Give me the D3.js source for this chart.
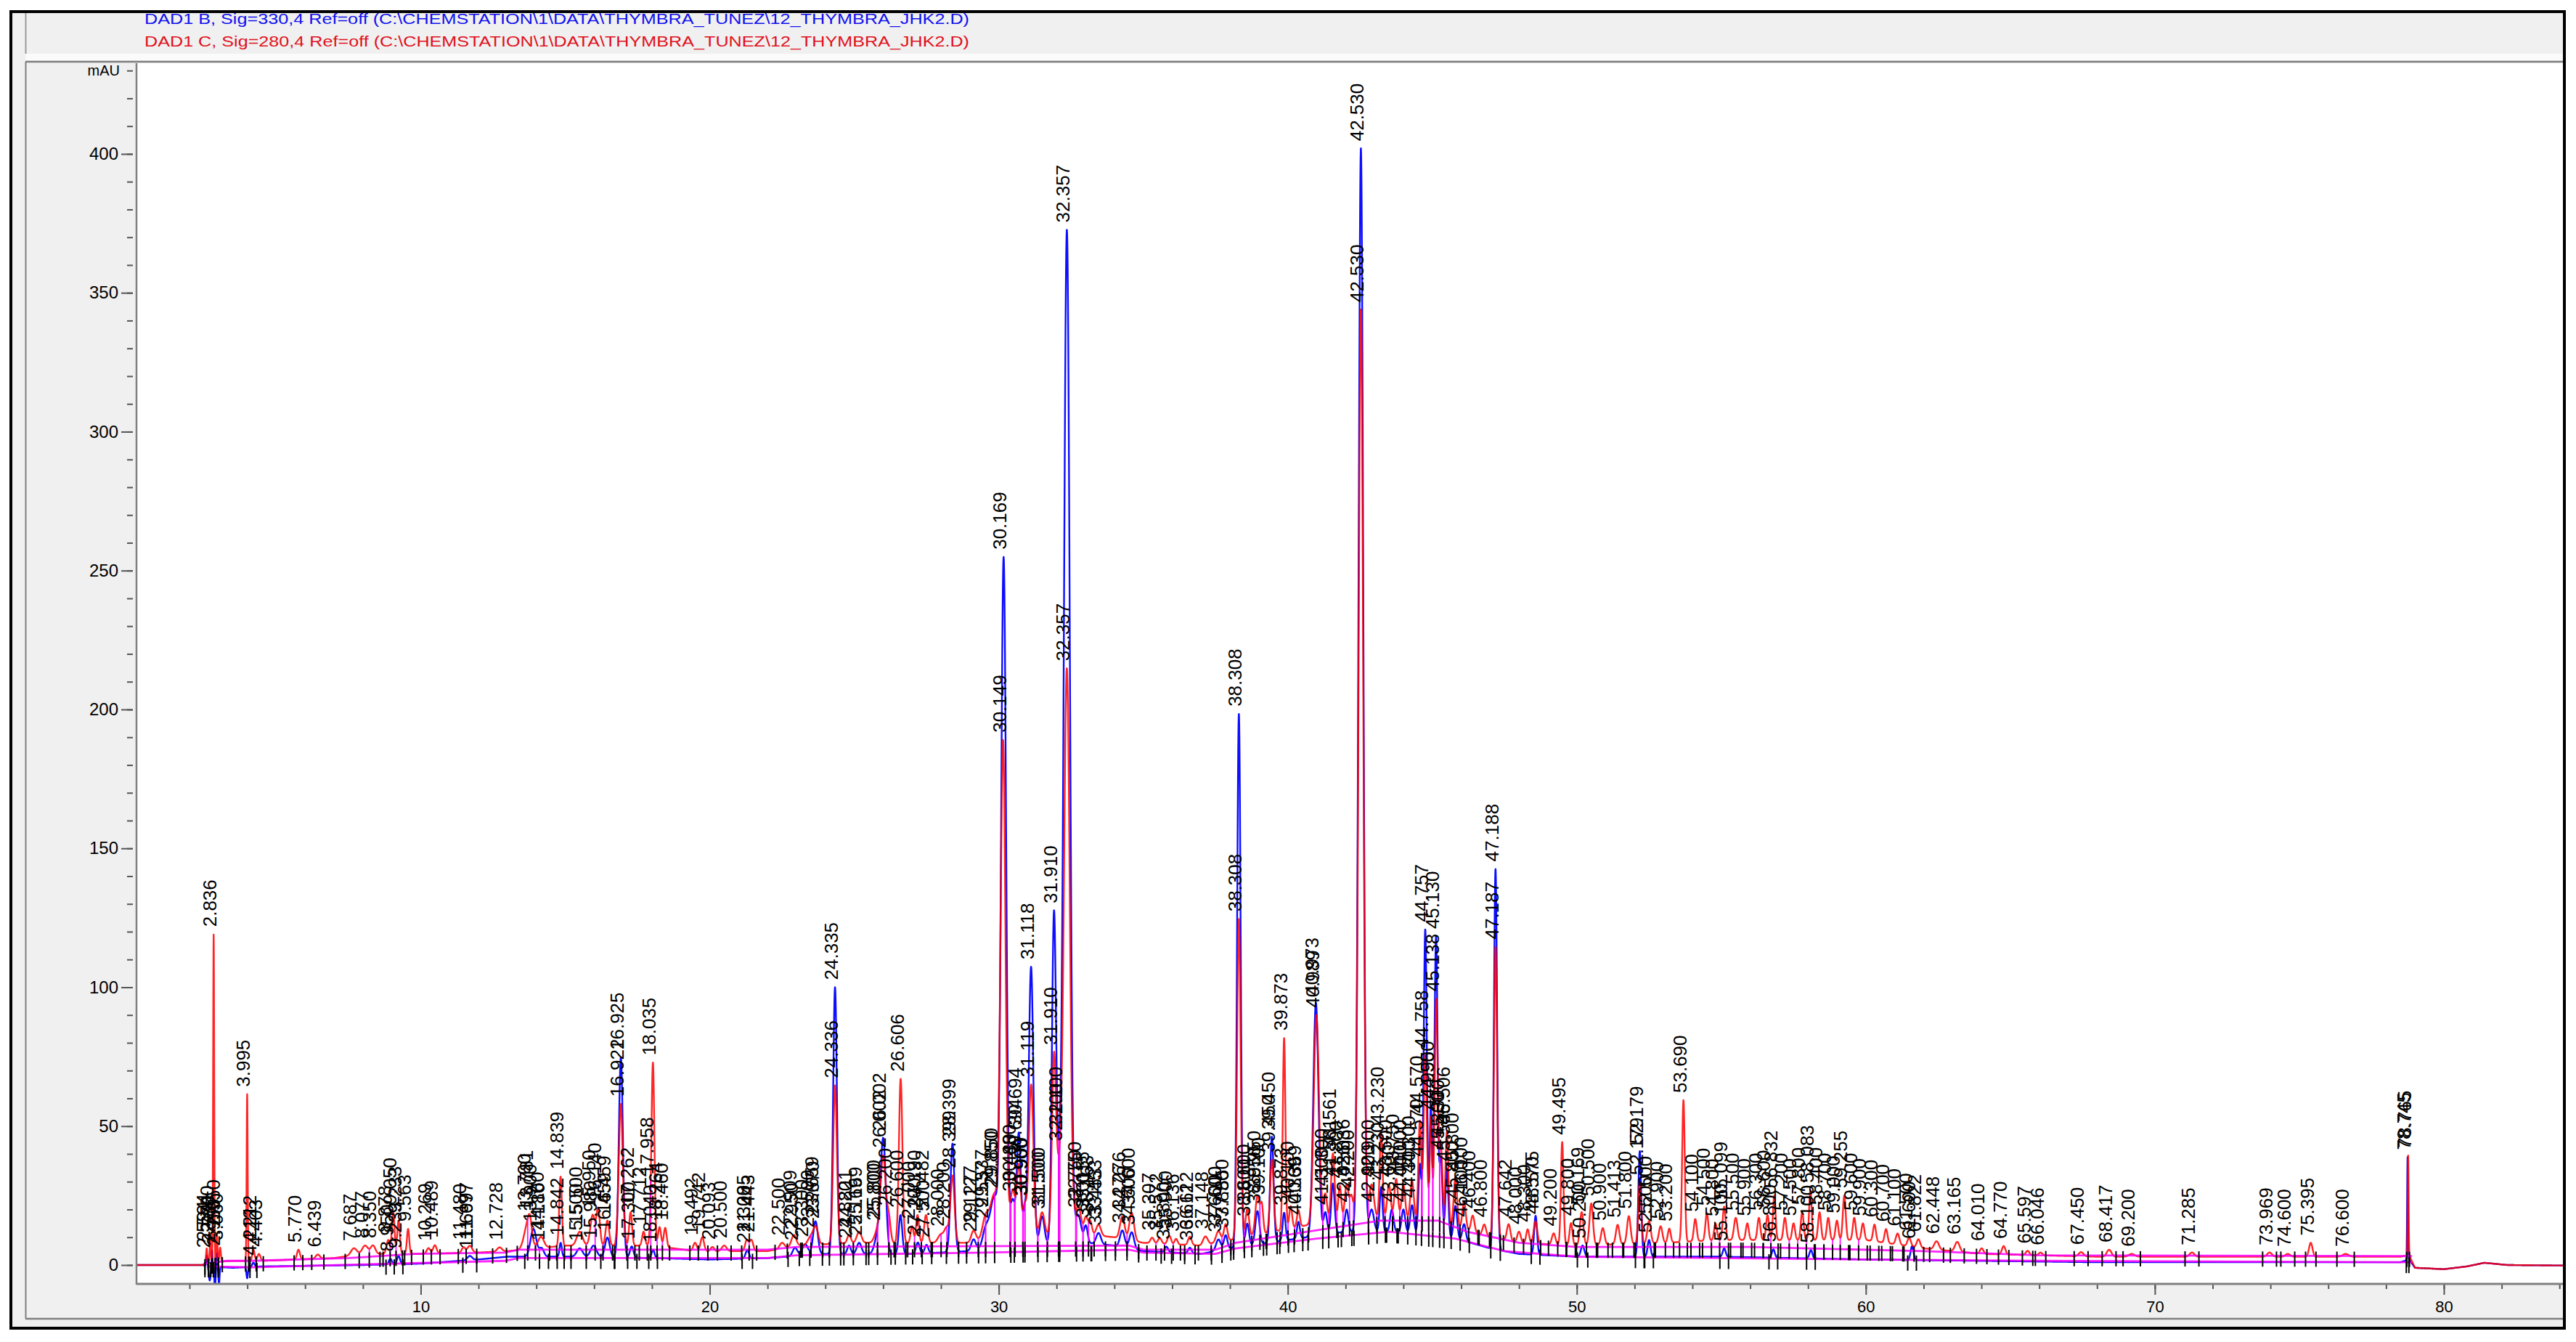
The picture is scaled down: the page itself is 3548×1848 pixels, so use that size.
<!DOCTYPE html>
<html><head><meta charset="utf-8">
<script src="https://cdn.jsdelivr.net/npm/d3@7"></script>
<style>
html,body{margin:0;padding:0;background:#fff;}
svg{display:block;}
text{font-family:"Liberation Sans",Arial,sans-serif;}
</style>
</head><body>
<svg id="c" width="3548" height="1848"></svg>
<script>
// ---------------- DATA ----------------
const headerLines = [
  "DAD1 B, Sig=330,4 Ref=off (C:\\CHEMSTATION\\1\\DATA\\THYMBRA_TUNEZ\\12_THYMBRA_JHK2.D)",
  "DAD1 C, Sig=280,4 Ref=off (C:\\CHEMSTATION\\1\\DATA\\THYMBRA_TUNEZ\\12_THYMBRA_JHK2.D)"
];
const yUnit = "mAU";
const yTickLabels = [0, 50, 100, 150, 200, 250, 300, 350, 400];
const xTickLabels = [10, 20, 30, 40, 50, 60, 70, 80];

// signal drift (time min, mAU)
const blueDrift = [[0.2,0],[2.45,0],[2.6,-0.5],[3.5,-1],[4.5,-0.5],[8,0],[10,0.5],[12,2],[13,3],[16,3],[18,2.5],[20,2],[22,2.5],[24,4],[27,4],[29,5],[30,7],[33,8],[34,7],[35,5],[37,4],[38,6],[40,9],[42,12],[44,12],[46,9],[47,6],[48,4],[50,3],[55,3],[60,2],[64,1.5],[68,1],[78.5,1],[78.8,2],[79.0,-1],[80,-1.5],[80.8,-0.5],[81.4,0.8],[82.2,0],[84.2,-0.2]];
const redDrift = [[0.2,0],[2.45,0],[2.6,1],[3.5,1.5],[4.5,1.5],[7,2.5],[8,4],[10,4],[12,4.5],[13,5],[15,7],[18,7],[19.5,5],[22,5],[23,7],[25,8],[29,8],[30,11],[33,11],[34,10],[35,8],[37,7],[38,9],[40,13],[42,17],[44,17],[46,13],[47,10],[48,8],[50,7],[53,8],[55,9],[60,9],[62,6],[64,4],[68,3],[78.5,3],[78.8,3.5],[79.0,-1],[80,-1.5],[80.8,-0.5],[81.4,0.8],[82.2,0],[84.2,-0.2]];

// peaks: [retention time, height above drift (mAU), width sigma (min)]
const bluePeaks = [
[2.594,4,0.02],[2.70,-5,0.03],[2.78,6,0.015],[2.88,-8,0.02],[2.95,5,0.015],[3.02,-6,0.02],[3.995,-4,0.025],[4.212,1.5,0.04],
[8.95,2,0.05],[9.233,3,0.05],[11.697,1.5,0.08],
[13.9,10,0.1],[14.18,3,0.08],[14.842,5,0.04],[15.5,3,0.1],[15.98,4,0.1],[16.459,7,0.08],[16.925,72,0.07],[17.3,4,0.06],[18.04,3,0.05],
[21.3,3,0.06],[22.95,3,0.08],[23.3,4,0.1],[23.659,12,0.08],
[24.335,96,0.065],[24.82,3,0.06],[25.169,4,0.08],[25.8,6,0.1],[26.002,41,0.09],[26.6,14,0.06],[27.2,4,0.06],[27.5,3,0.06],[28.399,39,0.07],[29.127,4,0.08],[29.537,6,0.1],
[29.85,18,0.15],[30.169,246,0.085],[30.48,16,0.08],[30.694,40,0.07],[30.9,12,0.06],[31.118,100,0.08],[31.5,10,0.08],[31.910,116,0.07],[32.1,24,0.1],[32.357,364,0.1],[32.75,10,0.1],[33.015,6,0.06],[33.453,4,0.08],[34.276,6,0.08],[34.6,6,0.08],[35.8,2,0.06],[36.612,2,0.06],[37.6,4,0.08],[37.85,5,0.06],
[38.308,192,0.06],[38.6,8,0.06],[38.95,12,0.07],[39.45,38,0.06],[39.873,10,0.05],[40.369,6,0.05],[40.973,84,0.09],[41.3,8,0.06],[41.561,18,0.06],[42.036,8,0.06],
[42.530,390,0.08],[42.9,8,0.08],[43.230,16,0.05],[43.6,8,0.06],[44.0,8,0.06],[44.3,10,0.06],[44.570,25,0.05],[44.757,110,0.055],[44.95,46,0.04],[45.130,108,0.055],[45.3,28,0.05],[45.506,25,0.05],[45.8,12,0.06],[46.1,6,0.06],
[47.188,137,0.055],[48.575,14,0.05],[50.2,4,0.06],[52.179,38,0.05],[52.5,6,0.05],[55.1,3,0.05],[56.8,3,0.05],[58.1,3,0.05],[61.6,5,0.05],[78.745,37,0.015]
];
const redPeaks = [
[2.594,5,0.02],[2.72,8,0.02],[2.836,118,0.018],[2.95,10,0.02],[3.06,5,0.025],[3.995,60,0.018],[4.212,4,0.04],[4.403,2.5,0.05],[5.770,3.5,0.05],[6.439,1.5,0.07],[7.687,2.5,0.1],[8.077,3,0.1],[8.35,3,0.08],[8.878,5,0.06],[9.05,15,0.045],[9.233,12,0.045],[9.563,9,0.04],[10.269,2,0.06],[10.489,3,0.06],[11.480,2,0.06],[11.697,2.5,0.08],[12.728,1.5,0.08],
[13.70,9,0.12],[13.781,5,0.06],[14.160,4,0.1],[14.839,25,0.045],[15.5,5,0.1],[15.95,11,0.08],[16.140,13,0.06],[16.459,9,0.06],[16.922,51,0.07],[17.262,12,0.05],[17.712,5,0.05],[17.958,3,0.05],[18.035,65,0.05],[18.264,7,0.05],[18.460,7,0.05],[19.492,3,0.06],[19.742,5,0.06],
[20.093,1.5,0.06],[20.5,2,0.08],[21.285,4,0.06],[21.443,4,0.06],[22.5,2,0.08],[22.909,4,0.08],[23.5,3,0.1],[23.670,6,0.08],
[24.336,57,0.065],[24.821,3,0.06],[25.169,4,0.08],[25.8,4,0.1],[26.002,31,0.09],[26.2,8,0.06],[26.606,59,0.06],[27.0,6,0.05],[27.190,10,0.05],[27.482,10,0.06],[28.0,3,0.1],[28.2,5,0.08],[28.399,24,0.07],[29.127,4,0.08],[29.537,7,0.1],
[29.85,15,0.15],[30.149,176,0.085],[30.48,16,0.08],[30.694,25,0.07],[30.9,10,0.06],[31.119,54,0.08],[31.5,8,0.08],[31.910,62,0.07],[32.1,22,0.1],[32.357,203,0.1],[32.75,10,0.1],[33.015,6,0.06],[33.163,5,0.06],[33.453,4,0.08],
[34.276,8,0.08],[34.6,10,0.08],[35.307,2,0.06],[35.572,2,0.06],[35.9,3,0.06],[36.136,2,0.05],[36.612,3,0.06],[37.148,3,0.08],[37.6,4,0.08],[37.85,6,0.06],
[38.308,115,0.06],[38.6,10,0.06],[38.95,14,0.07],[39.1,10,0.05],[39.45,26,0.06],[39.873,69,0.045],[40.1,8,0.05],[40.369,6,0.05],[40.989,75,0.09],[41.3,10,0.06],[41.561,24,0.06],[41.8,12,0.05],[42.036,12,0.06],[42.2,8,0.06],
[42.530,327,0.08],[42.9,12,0.08],[43.230,31,0.05],[43.5,12,0.06],[43.75,14,0.06],[44.0,12,0.06],[44.3,14,0.06],[44.570,36,0.05],[44.758,60,0.055],[44.95,38,0.04],[45.138,81,0.055],[45.3,28,0.05],[45.506,34,0.05],[45.8,18,0.06],[46.1,10,0.06],[46.4,6,0.06],[46.8,4,0.06],
[47.187,105,0.055],[47.642,6,0.06],[48.0,4,0.06],[48.3,5,0.05],[48.57,8,0.06],[49.2,4,0.06],[49.495,37,0.045],[49.8,8,0.05],[50.169,12,0.06],[50.5,15,0.06],[50.9,6,0.06],
[51.413,7,0.06],[51.8,10,0.06],[52.179,22,0.05],[52.5,8,0.06],[52.9,6,0.06],[53.2,5,0.05],[53.690,51,0.045],[54.1,8,0.05],[54.5,10,0.05],[54.8,6,0.05],[55.099,12,0.05],[55.5,8,0.06],[55.9,6,0.05],[56.3,8,0.05],[56.6,9,0.05],[56.832,16,0.045],[57.2,8,0.05],[57.5,6,0.05],[57.8,10,0.05],[58.083,18,0.045],[58.4,10,0.05],[58.7,8,0.05],[59.0,7,0.05],[59.255,16,0.05],[59.6,8,0.05],[59.9,6,0.05],[60.3,6,0.05],[60.7,5,0.05],[61.1,4,0.06],[61.5,3,0.06],[61.822,3,0.06],[62.448,3,0.08],[63.165,3.5,0.08],[64.010,2,0.06],[64.770,3,0.06],[65.597,1.5,0.06],[66.046,1,0.06],[67.450,1.5,0.08],[68.417,2.5,0.08],[69.2,1,0.1],[71.285,1.5,0.08],[73.969,1.5,0.08],[74.6,1,0.08],[75.395,5,0.06],[76.6,1,0.1],[78.765,36,0.015]
];

// integration baselines (time, mAU)
const redIntegBase = [[2.5,0.5],[3.3,1.5],[4.1,1.5],[7.5,2.5],[9.8,4],[12.9,4.5],[13.4,5.5],[20,5.5],[22,5.5],[23,6.5],[34.5,7],[35,5.5],[37.5,5.5],[38.2,8],[41,12.5],[43.2,16],[45.2,16],[46.2,12],[48,8],[50,6.5],[56,6.5],[62,5],[66,3.5],[78.9,3.2]];
const blueIntegBase = [[2.6,-0.5],[4.2,-0.8],[12.9,1.5],[13.4,2.5],[22,2.5],[23,3.5],[29.5,4.5],[34.5,5.5],[35,4.5],[37.5,4],[38.2,6],[41,9.5],[43.5,12],[45.8,9.5],[47.5,5],[50,3],[60,2],[66,1.5],[78.9,1]];

// ---------------- DRAW ----------------
const W = 3548, H = 1848;
const L = 188, R = 3530, T = 88, B = 1768;
const x = d3.scaleLinear().domain([0.166, 84.12]).range([L, R]);
const y = d3.scaleLinear().domain([-6.8, 432.4]).range([B, T]);

const svg = d3.select("#c");
svg.append("rect").attr("width", W).attr("height", H).attr("fill", "#fff");
svg.append("rect").attr("x", 16).attr("y", 17).attr("width", 3515).attr("height", 1811).attr("fill", "#f0f0f0");
svg.append("rect").attr("x", 35).attr("y", 74).attr("width", 3496).attr("height", 9).attr("fill", "#fbfbfb");
svg.append("line").attr("x1", 35.5).attr("x2", 35.5).attr("y1", 17).attr("y2", 74).attr("stroke", "#9a9a9a").attr("stroke-width", 2);
svg.append("line").attr("x1", 35).attr("x2", 3531).attr("y1", 85).attr("y2", 85).attr("stroke", "#7f7f7f").attr("stroke-width", 2.5);
svg.append("line").attr("x1", 35.5).attr("x2", 35.5).attr("y1", 85).attr("y2", 1816).attr("stroke", "#7f7f7f").attr("stroke-width", 2);
svg.append("line").attr("x1", 35).attr("x2", 3531).attr("y1", 1816).attr("y2", 1816).attr("stroke", "#7f7f7f").attr("stroke-width", 2.5);
svg.append("rect").attr("x", L).attr("y", 87).attr("width", R - L).attr("height", B - 87).attr("fill", "#fff");

// header text
const headerColors = ["#1010f0", "#e0101c"];
svg.selectAll("text.hdr").data(headerLines).enter().append("text")
  .attr("class", "hdr")
  .attr("x", 199).attr("y", (d, i) => 33 + i * 31)
  .attr("font-size", 21)
  .attr("textLength", 1136).attr("lengthAdjust", "spacingAndGlyphs")
  .attr("fill", (d, i) => headerColors[i])
  .text(d => d);

svg.append("clipPath").attr("id", "plotclip").append("rect")
  .attr("x", L).attr("y", 87).attr("width", R - L).attr("height", B - 87);
const g = svg.append("g").attr("clip-path", "url(#plotclip)");

function interp(pts, t) {
  if (t <= pts[0][0]) return pts[0][1];
  for (let i = 1; i < pts.length; i++) {
    if (t <= pts[i][0]) {
      const [t0, v0] = pts[i - 1], [t1, v1] = pts[i];
      return v0 + (v1 - v0) * (t - t0) / (t1 - t0);
    }
  }
  return pts[pts.length - 1][1];
}
function makeSignal(peaks, drift) {
  return function (t) {
    let v = interp(drift, t);
    for (const [pt, h, s] of peaks) {
      const d = (t - pt) / s;
      if (d > -7 && d < 7) v += h * Math.exp(-0.5 * d * d);
    }
    return v;
  };
}
const blueSig = makeSignal(bluePeaks, blueDrift);
const redSig = makeSignal(redPeaks, redDrift);
const times = d3.range(0.17, 84.12, 0.005);
const line = d3.line().x(d => x(d[0])).y(d => y(d[1]));

const traces = [
  { sig: blueSig, color: "#0000ff", op: 0.95, peaks: bluePeaks, base: blueIntegBase },
  { sig: redSig, color: "#ff0000", op: 0.85, peaks: redPeaks, base: redIntegBase }
];
traces.forEach(tr => {
  g.append("path").datum(times.map(t => [t, tr.sig(t)]))
    .attr("d", line).attr("fill", "none")
    .attr("stroke", tr.color).attr("stroke-width", 2.4).attr("stroke-opacity", tr.op)
    .attr("stroke-linejoin", "round");
});

function boundaries(peaks, sig) {
  const pos = peaks.filter(p => p[1] > 0).sort((a, b) => a[0] - b[0]);
  const drops = [], edges = [];
  edges.push(pos[0][0] - 3 * pos[0][2]);
  for (let i = 0; i < pos.length - 1; i++) {
    const p = pos[i], q = pos[i + 1], gap = q[0] - p[0];
    if (gap < 3 * (p[2] + q[2])) {
      let best = p[0], bv = Infinity;
      for (let k = 1; k < 40; k++) {
        const t = p[0] + gap * k / 40, v = sig(t);
        if (v < bv) { bv = v; best = t; }
      }
      drops.push(best);
    } else {
      edges.push(p[0] + 3 * p[2]);
      edges.push(q[0] - 3 * q[2]);
    }
  }
  const last = pos[pos.length - 1];
  edges.push(last[0] + 3 * last[2]);
  return { drops, edges };
}

const magenta = "#ff00ff";
traces.forEach(tr => {
  g.append("path").datum(tr.base).attr("d", line).attr("fill", "none")
    .attr("stroke", magenta).attr("stroke-width", 2.8).attr("stroke-opacity", 0.85);
});
const tickData = [];
traces.forEach(tr => {
  const bd = boundaries(tr.peaks, tr.sig);
  g.selectAll(null).data(bd.drops.filter(t => tr.sig(t) > interp(tr.base, t))).enter().append("line")
    .attr("x1", t => x(t)).attr("x2", t => x(t))
    .attr("y1", t => y(interp(tr.base, t))).attr("y2", t => y(tr.sig(t)))
    .attr("stroke", magenta).attr("stroke-width", 1.8).attr("stroke-opacity", 0.9);
  bd.drops.concat(bd.edges).forEach(t => tickData.push([t, interp(tr.base, t)]));
});
g.selectAll(null).data(tickData).enter().append("line")
  .attr("x1", d => x(d[0])).attr("x2", d => x(d[0]))
  .attr("y1", d => y(d[1]) - 6).attr("y2", d => y(d[1]) + 15)
  .attr("stroke", "#000").attr("stroke-width", 2);

traces.forEach(tr => {
  g.selectAll(null).data(tr.peaks.filter(p => p[1] > 0)).enter().append("text")
    .attr("transform", p => `translate(${x(p[0]) + 4},${y(tr.sig(p[0])) - 10}) rotate(-90)`)
    .attr("font-size", 26).attr("fill", "#000")
    .text(p => p[0].toFixed(3));
});

// axes
const axG = svg.append("g");
const yMinor = d3.range(0, 431, 10);
axG.append("g").attr("transform", `translate(${L - 5},0)`)
  .call(d3.axisLeft(y).tickValues(yMinor).tickSize(8).tickFormat(""))
  .call(s => s.select(".domain").remove());
axG.append("g").attr("transform", `translate(${L - 5},0)`)
  .call(d3.axisLeft(y).tickValues(yTickLabels).tickSize(16).tickPadding(4))
  .call(s => s.select(".domain").remove())
  .call(s => s.selectAll("text").attr("font-size", 24).attr("font-family", "Liberation Sans, Arial, sans-serif").attr("fill", "#000"));
axG.append("text").attr("x", L - 23).attr("y", y(430)).attr("dy", "0.35em")
  .attr("text-anchor", "end").attr("font-size", 20).attr("fill", "#000").text(yUnit);

const xMinor = d3.range(2, 85, 2);
const xg1 = svg.append("g").attr("transform", `translate(0,${B})`)
  .call(d3.axisBottom(x).tickValues(xMinor).tickSize(7).tickFormat(""));
xg1.select(".domain").remove();
const xg2 = svg.append("g").attr("transform", `translate(0,${B})`)
  .call(d3.axisBottom(x).tickValues(xTickLabels).tickSize(15).tickPadding(8));
xg2.select(".domain").remove();
xg2.selectAll("text").attr("font-size", 22).attr("font-family", "Liberation Sans, Arial, sans-serif").attr("fill", "#000");
svg.selectAll(".tick line").attr("stroke", "#555").attr("stroke-width", 2);

svg.append("line").attr("x1", L).attr("x2", L).attr("y1", 87).attr("y2", B + 1).attr("stroke", "#808080").attr("stroke-width", 2.5);
svg.append("line").attr("x1", L).attr("x2", R).attr("y1", B).attr("y2", B).attr("stroke", "#808080").attr("stroke-width", 3);

svg.append("rect").attr("x", 15).attr("y", 16).attr("width", 3517).attr("height", 1813)
  .attr("fill", "none").attr("stroke", "#000").attr("stroke-width", 4);
</script>
</body></html>
